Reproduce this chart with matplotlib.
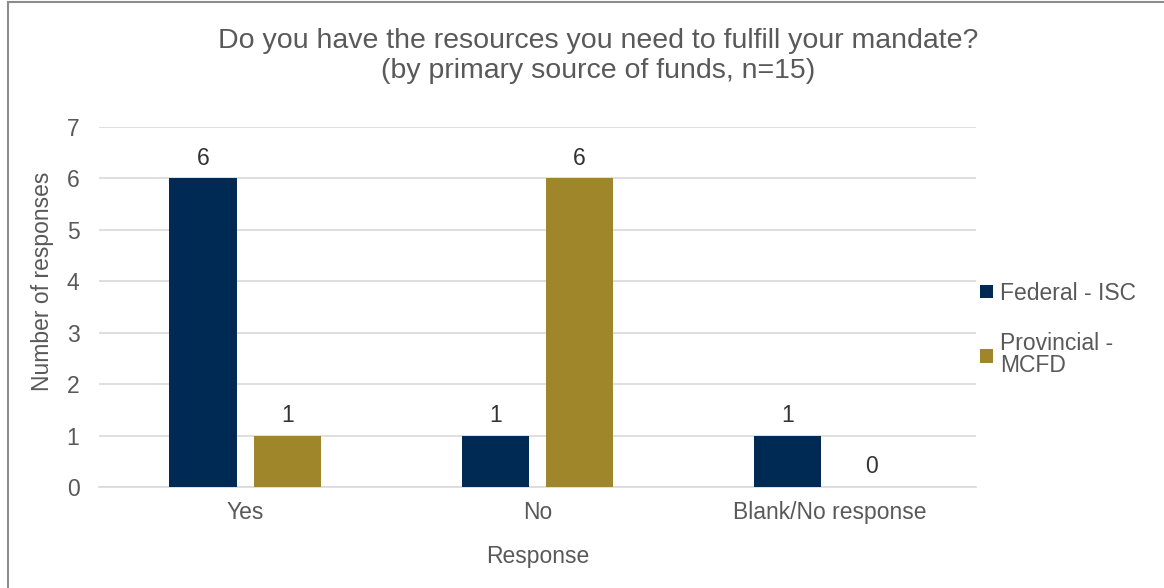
import matplotlib
matplotlib.use("Agg")
import matplotlib.pyplot as plt
from matplotlib.patches import Rectangle
import numpy as np

plt.rcParams['font.family'] = ['Liberation Sans', 'DejaVu Sans']

categories = ["Yes", "No", "Blank/No response"]
series_names = ["Federal - ISC", "Provincial -\nMCFD"]
federal = [6, 1, 1]
provincial = [1, 6, 0]
colors = ["#002A54", "#A0862A"]
text_color = "#595959"
fs = 16.5

fig = plt.figure(figsize=(11.64, 5.88), dpi=100)
ax = fig.add_axes([0.085, 0.1718, 0.7535, 0.6122])

x = np.arange(len(categories))
w = 0.23
off = 0.144
b1 = ax.bar(x - off, federal, w, color=colors[0], label=series_names[0], zorder=3)
b2 = ax.bar(x + off, provincial, w, color=colors[1], label=series_names[1], zorder=3)

for bars, vals in ((b1, federal), (b2, provincial)):
    for r, v in zip(bars, vals):
        ax.text(r.get_x() + r.get_width() / 2, v + 0.17, str(v), ha="center", va="bottom",
                fontsize=fs, color="#333333")

ax.set_xlim(-0.5, 2.5)
ax.set_ylim(0, 7)
ax.set_yticks(range(0, 8))
ax.set_xticks(x)
ax.set_xticklabels(categories)
ax.yaxis.grid(True, color="#d9d9d9", linewidth=1.2, zorder=0)
ax.set_axisbelow(True)
for s in ("top", "right", "left"):
    ax.spines[s].set_visible(False)
ax.spines["bottom"].set_color("#d9d9d9")
ax.spines["bottom"].set_linewidth(1.2)
ax.tick_params(axis="both", length=0, labelsize=fs, labelcolor=text_color)
ax.tick_params(axis="x", pad=10)
ax.tick_params(axis="y", pad=14)

ax.set_xlabel("Response", fontsize=fs, color=text_color)
ax.xaxis.set_label_coords(0.5, -0.16)
ax.set_ylabel("Number of responses", fontsize=fs, color=text_color)
ax.yaxis.set_label_coords(-0.051, 0.57)

fig.text(0.514, 0.952, "Do you have the resources you need to fulfill your mandate?\n(by primary source of funds, n=15)",
         ha="center", va="top", fontsize=20.5, color=text_color, linespacing=1.2)

leg = fig.legend(handles=[b1, b2], loc="upper left", bbox_to_anchor=(0.8245, 0.556),
                 frameon=False, fontsize=fs, handlelength=0.55, handleheight=0.55,
                 handletextpad=0.3, labelspacing=1.2, labelcolor=text_color)
for t in leg.get_texts():
    t.set_linespacing(0.95)

fig.patches.append(Rectangle((8 / 1164, -0.05), 1.1, 1.05 - 1.5 / 588, transform=fig.transFigure,
                             fill=False, edgecolor="#8c8c8c", linewidth=1.5))

fig.savefig("out.png", dpi=100)
